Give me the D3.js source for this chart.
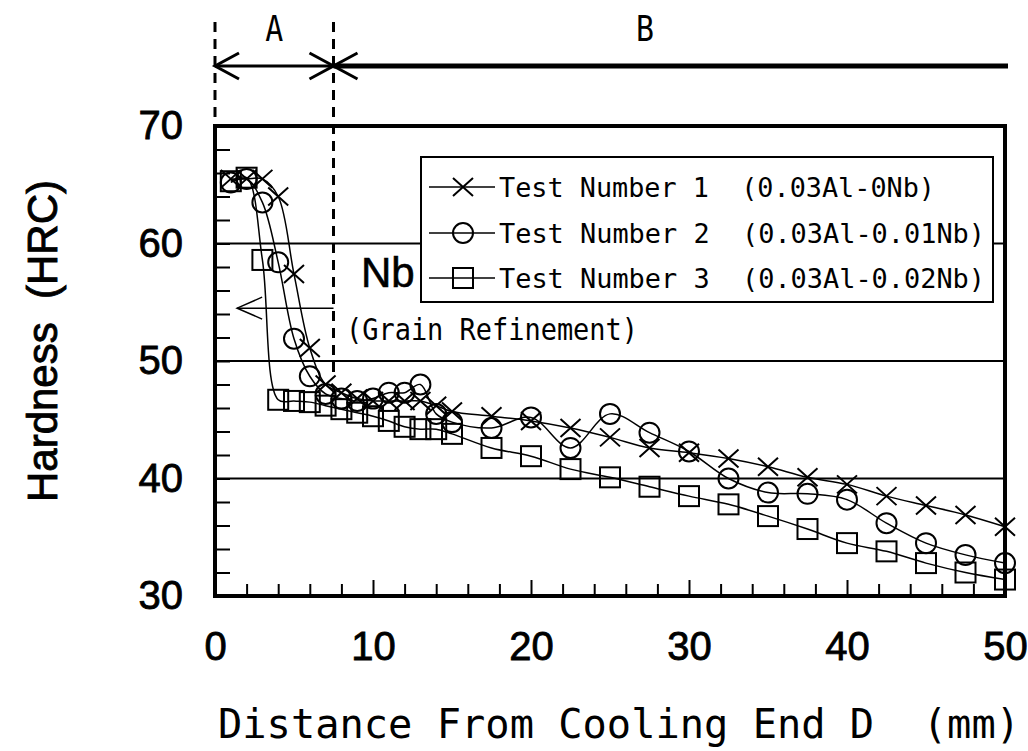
<!DOCTYPE html>
<html>
<head>
<meta charset="utf-8">
<script src="https://cdn.jsdelivr.net/npm/d3@7"></script>
<style>
  body { margin: 0; background: #fff; }
  svg { display: block; }
</style>
</head>
<body>
<svg width="1028" height="751"></svg>
<script>
// distance from cooled end (mm)
const distance = [1, 2, 3, 4, 5, 6, 7, 8, 9, 10, 11, 12, 13, 14, 15,
  17.5, 20, 22.5, 25, 27.5, 30, 32.5, 35, 37.5, 40, 42.5, 45, 47.5, 50];
// hardness HRC
const test1 = [65.5, 65.5, 65.5, 64.0, 57.4, 51.1, 48.0, 47.3, 46.8, 46.6, 46.6, 46.6, 46.6, 46.2, 45.7,
  45.3, 44.9, 44.3, 43.5, 42.6, 42.2, 41.7, 41.0, 40.1, 39.5, 38.5, 37.7, 36.9, 35.9];
const test2 = [65.2, 65.5, 63.5, 58.4, 51.9, 48.7, 47.2, 46.8, 46.6, 46.8, 47.3, 47.3, 48.0, 45.5, 44.8,
  44.3, 45.2, 42.6, 45.5, 43.9, 42.3, 40.0, 38.8, 38.7, 38.2, 36.2, 34.5, 33.5, 32.8];
const test3 = [65.3, 65.6, 58.6, 46.7, 46.6, 46.5, 46.2, 45.9, 45.6, 45.3, 44.9, 44.4, 44.2, 44.2, 43.8,
  42.6, 41.9, 40.8, 40.1, 39.3, 38.5, 37.8, 36.8, 35.7, 34.5, 33.8, 32.8, 32.0, 31.4];

const seriesNames = ["Test Number 1  (0.03Al-0Nb)", "Test Number 2  (0.03Al-0.01Nb)", "Test Number 3  (0.03Al-0.02Nb)"];
const xTicks = [0, 10, 20, 30, 40, 50];
const yTicks = [30, 40, 50, 60, 70];
const gridValues = [40, 50, 60];
const zoneA = [0, 7.5];   // region A / B boundary

const svg = d3.select("svg");
const mono = "'DejaVu Sans Mono', 'Liberation Mono', monospace";
const sans = "'Liberation Sans', Arial, sans-serif";

const x = d3.scaleLinear().domain([0, 50]).range([215, 1005]);
const y = d3.scaleLinear().domain([30, 70]).range([596, 126]);

// helper for the narrow gothic-like text
function monoText(px, py, str, size, len) {
    const t = svg.append("text")
        .attr("x", px).attr("y", py)
        .attr("font-family", mono)
        .attr("font-size", size)
        .attr("fill", "#000")
        .attr("xml:space", "preserve")
        .text(str);
    if (len) t.attr("textLength", len).attr("lengthAdjust", "spacingAndGlyphs");
    return t;
}

// grid lines
svg.append("g").selectAll("line")
    .data(gridValues).join("line")
    .attr("x1", x(0)).attr("x2", x(50))
    .attr("y1", d => y(d)).attr("y2", d => y(d))
    .attr("stroke", "#000").attr("stroke-width", 2);

// inner ticks on the left axis
const yMinor = svg.append("g")
    .attr("transform", `translate(${x(0)},0)`)
    .call(d3.axisLeft(y).tickValues(d3.range(32, 70, 2)).tickSize(-15).tickFormat(""));
yMinor.select(".domain").remove();
yMinor.selectAll("line").attr("stroke-width", 2);

// inner ticks on the bottom axis
const xMinor = svg.append("g")
    .attr("transform", `translate(0,${y(30)})`)
    .call(d3.axisBottom(x).tickValues(d3.range(2, 50, 2).filter(d => d % 10)).tickSize(-12).tickFormat(""));
xMinor.select(".domain").remove();
xMinor.selectAll("line").attr("stroke-width", 2);
const xMajor = svg.append("g")
    .attr("transform", `translate(0,${y(30)})`)
    .call(d3.axisBottom(x).tickValues([10, 20, 30, 40]).tickSize(-16).tickFormat(""));
xMajor.select(".domain").remove();
xMajor.selectAll("line").attr("stroke-width", 2);

// tick labels
const yLab = svg.append("g")
    .attr("transform", `translate(${x(0)},0)`)
    .call(d3.axisLeft(y).tickValues(yTicks).tickSize(0).tickPadding(32));
yLab.select(".domain").remove();
yLab.selectAll("text").attr("font-family", sans).attr("font-size", 40)
    .attr("fill", "#000").attr("stroke", "#000").attr("stroke-width", 0.8);

const xLab = svg.append("g")
    .attr("transform", `translate(0,${y(30)})`)
    .call(d3.axisBottom(x).tickValues(xTicks).tickSize(0).tickPadding(36));
xLab.select(".domain").remove();
xLab.selectAll("text").attr("font-family", sans).attr("font-size", 40)
    .attr("fill", "#000").attr("stroke", "#000").attr("stroke-width", 0.8);

// plot frame
svg.append("rect")
    .attr("x", x(0)).attr("y", y(70))
    .attr("width", x(50) - x(0)).attr("height", y(30) - y(70))
    .attr("fill", "none").attr("stroke", "#000").attr("stroke-width", 4);

// axis titles
svg.append("text")
    .attr("transform", "translate(57,341) rotate(-90)")
    .attr("text-anchor", "middle")
    .attr("font-family", sans).attr("font-size", 42)
    .attr("fill", "#000").attr("stroke", "#000").attr("stroke-width", 0.9)
    .attr("xml:space", "preserve")
    .text("Hardness  (HRC)");
monoText(218, 738, "Distance From Cooling End D  (mm)", 40, 802);

// zone markers A / B
const dashed = [[x(zoneA[0]), 22, y(70)], [x(zoneA[1]), 22, y(49)]];
svg.append("g").selectAll("line")
    .data(dashed).join("line")
    .attr("x1", d => d[0]).attr("x2", d => d[0])
    .attr("y1", d => d[1]).attr("y2", d => d[2])
    .attr("stroke", "#000").attr("stroke-width", 3)
    .attr("stroke-dasharray", "10 7");

const ay = 66;
const xa = x(zoneA[0]), xb = x(zoneA[1]), xe = 1008;
svg.append("line").attr("x1", xa).attr("x2", xb).attr("y1", ay).attr("y2", ay)
    .attr("stroke", "#000").attr("stroke-width", 3);
svg.append("line").attr("x1", xb).attr("x2", xe).attr("y1", ay).attr("y2", ay)
    .attr("stroke", "#000").attr("stroke-width", 5);
const heads = [[xa, 1], [xb, -1], [xb, 1]];
svg.append("g").selectAll("path")
    .data(heads).join("path")
    .attr("d", d => `M${d[0] + d[1] * 24},${ay - 13} L${d[0]},${ay} L${d[0] + d[1] * 24},${ay + 13}`)
    .attr("fill", "none").attr("stroke", "#000").attr("stroke-width", 3);
monoText((xa + xb) / 2 - 9, 41, "A", 36, 18);
monoText(636, 41, "B", 36, 18);

// Nb grain refinement arrow
const gy = y(54.5);
svg.append("line").attr("x1", x(1.4)).attr("x2", x(zoneA[1])).attr("y1", gy).attr("y2", gy)
    .attr("stroke", "#000").attr("stroke-width", 1.5);
svg.append("path")
    .attr("d", `M${x(1.4) + 25},${gy - 11} L${x(1.4)},${gy} L${x(1.4) + 25},${gy + 11}`)
    .attr("fill", "none").attr("stroke", "#000").attr("stroke-width", 1.5);
svg.append("text").attr("x", 361).attr("y", 287)
    .attr("font-family", sans).attr("font-size", 42)
    .attr("fill", "#000").attr("stroke", "#000").attr("stroke-width", 0.6).text("Nb");
monoText(346, 340, "(Grain Refinement)", 30, 292);

// marker shapes
function drawMarker(g, kind, cx, cy) {
    if (kind === 0) {
        g.append("path")
            .attr("d", `M${cx - 10},${cy - 9} L${cx + 10},${cy + 9} M${cx - 10},${cy + 9} L${cx + 10},${cy - 9}`)
            .attr("fill", "none").attr("stroke", "#000").attr("stroke-width", 2);
    } else if (kind === 1) {
        g.append("circle").attr("cx", cx).attr("cy", cy).attr("r", 10)
            .attr("fill", "none").attr("stroke", "#000").attr("stroke-width", 2);
    } else {
        g.append("rect").attr("x", cx - 10).attr("y", cy - 10).attr("width", 20).attr("height", 20)
            .attr("fill", "none").attr("stroke", "#000").attr("stroke-width", 2);
    }
}

const series = [test1, test2, test3];
const line = d3.line()
    .x(d => x(d[0]))
    .y(d => y(d[1]))
    .curve(d3.curveCatmullRom.alpha(0.5));

series.forEach((vals, i) => {
    const pts = distance.map((d, j) => [d, vals[j]]);
    svg.append("path")
        .attr("d", line(pts))
        .attr("fill", "none").attr("stroke", "#000").attr("stroke-width", 1.5);
    const g = svg.append("g");
    pts.forEach(p => drawMarker(g, i, x(p[0]), y(p[1])));
});

// legend
svg.append("rect")
    .attr("x", 421).attr("y", 157).attr("width", 572).attr("height", 145)
    .attr("fill", "#fff").attr("stroke", "#000").attr("stroke-width", 2);
const legendY = [187, 233, 278];
const legendLen = [436, 486, 486];
seriesNames.forEach((name, i) => {
    const ly = legendY[i];
    svg.append("line").attr("x1", 429).attr("x2", 495).attr("y1", ly).attr("y2", ly)
        .attr("stroke", "#000").attr("stroke-width", 1.5);
    drawMarker(svg.append("g"), i, 463, ly);
    monoText(499, ly + 10, name, 26, legendLen[i]);
});
</script>
</body>
</html>
